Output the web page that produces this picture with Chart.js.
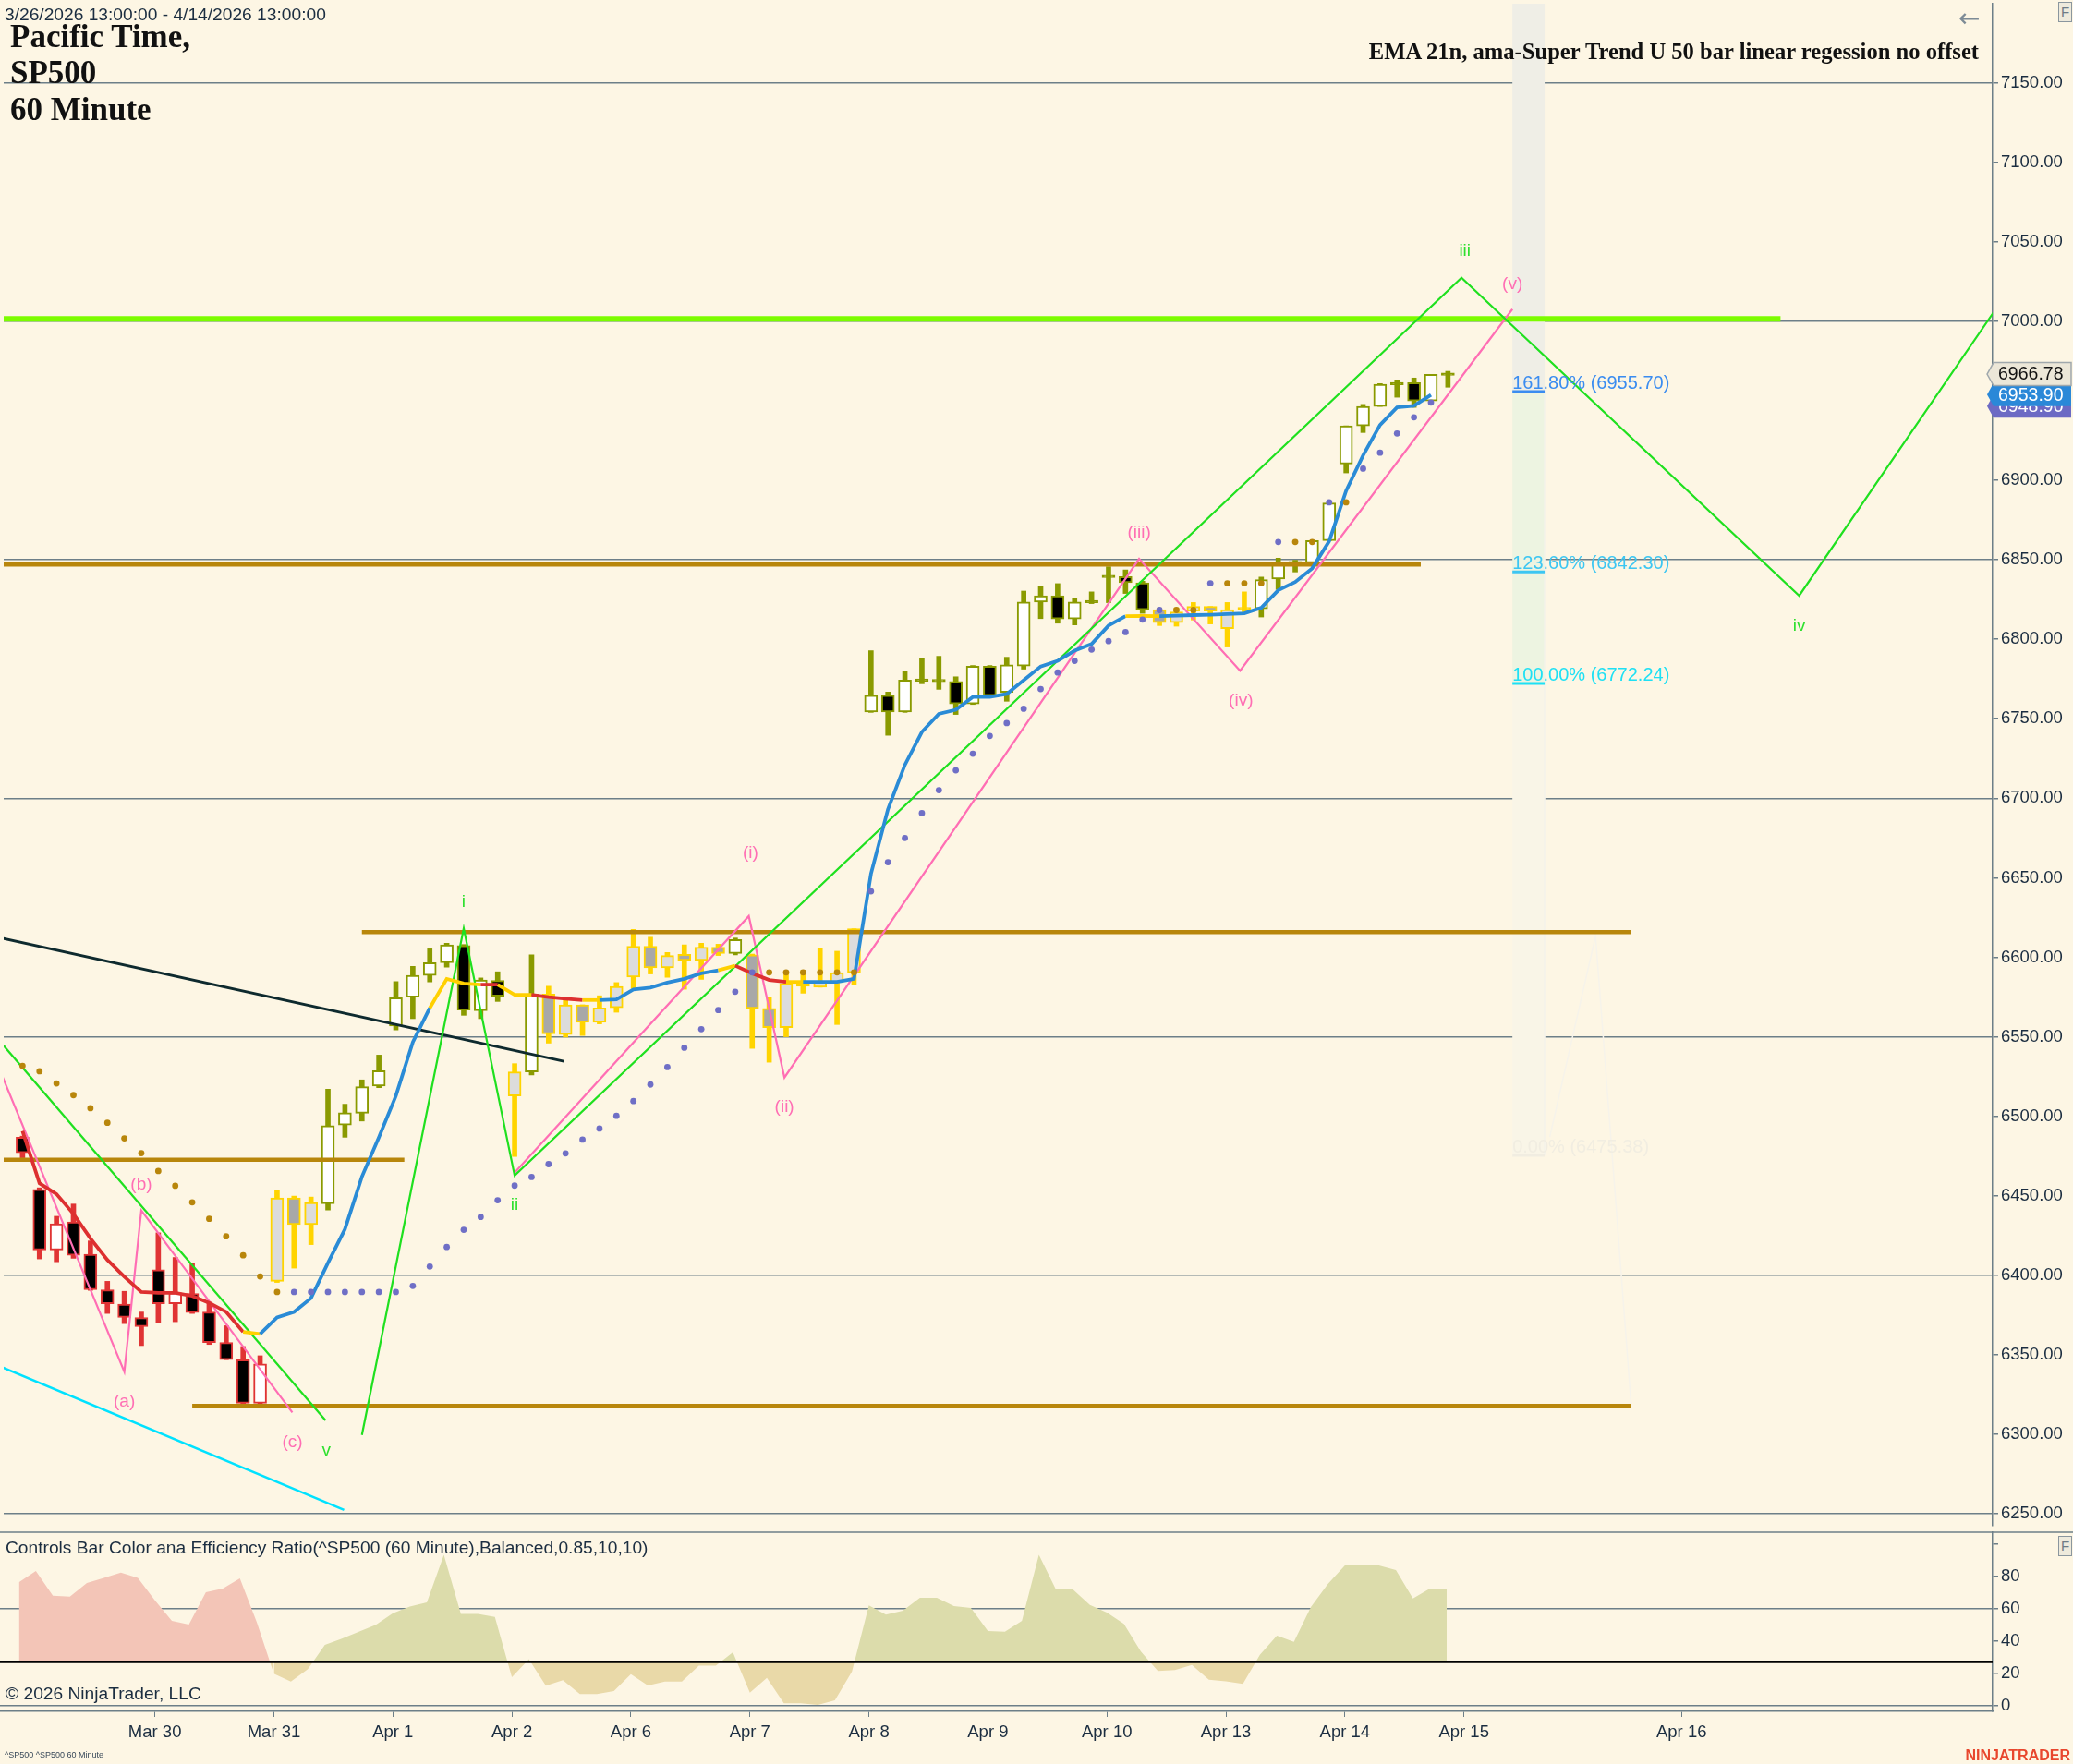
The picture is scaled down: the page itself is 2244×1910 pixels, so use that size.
<!DOCTYPE html>
<html><head><meta charset="utf-8">
<script src="https://cdn.jsdelivr.net/npm/chart.js@4.4.1/dist/chart.umd.min.js"></script>
<style>
html,body{margin:0;padding:0;background:#fdf6e4;}
#wrap{position:relative;width:2244px;height:1910px;overflow:hidden;background:#fdf6e4;}
canvas{position:absolute;left:0;}
.t{position:absolute;white-space:nowrap;}
.n{font-family:'Liberation Sans',Arial,sans-serif;color:#1b2d40;}
.s{font-family:'Liberation Serif','Times New Roman',serif;font-weight:bold;color:#111;}
</style></head><body>
<div id="wrap">
<canvas id="main" width="2244" height="1656" style="top:0;width:2244px;height:1656px"></canvas>
<canvas id="ind" width="2244" height="254" style="top:1656px;width:2244px;height:254px"></canvas>
<div class="t n" style="left:5px;top:5px;font-size:19.2px;line-height:22px;">3/26/2026 13:00:00 - 4/14/2026 13:00:00</div>
<div class="t s" style="left:11px;top:20px;font-size:35px;line-height:40px;">Pacific Time,</div>
<div class="t s" style="left:11px;top:59px;font-size:35px;line-height:40px;">SP500</div>
<div class="t s" style="left:11px;top:99px;font-size:35px;line-height:40px;">60 Minute</div>
<div class="t s" style="right:102px;top:41px;font-size:24.6px;line-height:30px;">EMA 21n, ama-Super Trend U 50 bar linear regession no offset</div>
<div class="t" style="left:2120px;top:4px;font-size:28px;line-height:32px;color:#7d8b96;font-family:'DejaVu Sans',sans-serif;">&#8592;</div>
<div class="t n" style="left:2228px;top:2px;width:13px;height:20px;border:1px solid #8a969e;background:#eeeadc;font-size:15px;line-height:20px;text-align:center;color:#6d7b86;">F</div>
<div class="t n" style="left:2228px;top:1663px;width:13px;height:20px;border:1px solid #8a969e;background:#eeeadc;font-size:15px;line-height:20px;text-align:center;color:#6d7b86;">F</div>
<div class="t n" style="left:6px;top:1665px;font-size:19.2px;line-height:22px;">Controls Bar Color ana Efficiency Ratio(^SP500 (60 Minute),Balanced,0.85,10,10)</div>
<div class="t n" style="left:6px;top:1823px;font-size:19.2px;line-height:22px;">&copy; 2026 NinjaTrader, LLC</div>
<div class="t n" style="left:5px;top:1894px;font-size:9px;line-height:12px;color:#3a4a5a;">^SP500 ^SP500 60 Minute</div>
<div class="t n" style="right:3px;top:1891px;font-size:16px;line-height:20px;font-weight:bold;color:#e8472e;">NINJATRADER</div>
</div>
<script>
// ---------------- data ----------------
const OPEN = [6486.8,6454.0,6415.9,6433.6,6413.2,6390.8,6381.8,6373.5,6403.5,6382.1,
6388.5,6376.9,6357.7,6346.9,6319.5,6396.2,6448.6,6431.9,6445.0,6494.5,
6501.9,6519.0,6556.8,6574.9,6588.6,6596.6,6607.4,6566.4,6585.5,6512.8,
6527.9,6576.8,6551.4,6570.1,6559.1,6568.3,6587.6,6606.9,6593.4,6601.9,
6598.0,6606.3,6602.4,6601.5,6567.8,6555.8,6583.5,6581.2,6584.1,6590.3,
6754.2,6764.8,6754.2,6774.5,6774.2,6773.5,6759.4,6783.1,6766.6,6783.1,
6823.4,6827.3,6812.8,6823.8,6839.6,6839.4,6835.5,6818.6,6810.5,6817.7,
6820.6,6806.7,6819.4,6819.2,6837.9,6848.3,6848.1,6862.0,6910.2,6934.2,
6946.4,6960.6,6961.4,6949.9,6966.5];
const HIGH = [6487.5,6455.0,6437.1,6444.8,6421.6,6396.2,6389.9,6376.9,6426.7,6411.2,
6407.8,6383.1,6368.3,6355.2,6349.4,6453.4,6449.8,6449.2,6517.0,6507.6,
6522.9,6538.5,6584.7,6594.3,6605.3,6608.8,6608.0,6587.0,6590.9,6533.1,
6601.5,6581.8,6573.0,6570.1,6575.8,6584.1,6617.5,6612.6,6603.0,6607.8,
6608.8,6608.2,6612.1,6602.0,6574.9,6590.5,6591.8,6605.9,6603.8,6617.9,
6792.8,6766.8,6780.0,6787.8,6789.3,6776.4,6783.5,6783.5,6788.7,6830.3,
6833.2,6835.0,6825.5,6829.8,6845.6,6843.6,6836.5,6819.7,6819.7,6823.1,
6820.6,6823.1,6829.8,6839.1,6851.0,6849.7,6862.0,6885.7,6934.2,6947.7,
6960.8,6963.1,6964.3,6966.6,6968.5];
const LOW = [6473.9,6410.3,6408.5,6410.7,6390.5,6376.0,6369.6,6355.8,6370.2,6370.8,
6376.0,6356.5,6346.9,6319.1,6319.1,6395.5,6404.5,6419.3,6441.1,6486.8,
6497.0,6518.0,6554.3,6561.4,6584.5,6593.8,6563.5,6561.4,6572.2,6474.7,
6526.0,6546.0,6549.8,6550.8,6558.1,6565.4,6580.3,6589.5,6587.4,6579.9,
6586.1,6601.1,6601.5,6542.7,6534.0,6550.0,6577.4,6581.2,6557.7,6582.8,
6754.0,6739.6,6754.0,6772.0,6768.5,6752.7,6759.0,6764.6,6761.0,6781.2,
6813.0,6810.1,6809.0,6822.4,6823.0,6828.8,6816.3,6808.6,6808.2,6812.1,
6809.6,6795.1,6816.3,6814.0,6831.3,6842.3,6848.0,6862.0,6904.6,6930.0,
6946.4,6952.2,6945.8,6949.9,6958.5];
const CLOSE = [6477.1,6415.9,6432.4,6412.6,6391.0,6382.1,6373.5,6367.7,6382.1,6388.9,
6376.6,6357.7,6346.9,6319.5,6344.2,6448.6,6431.9,6445.7,6494.1,6502.2,
6518.6,6528.6,6574.5,6588.6,6596.6,6607.8,6566.8,6585.7,6575.5,6527.9,
6576.8,6551.8,6570.1,6559.1,6568.1,6581.6,6606.9,6593.4,6601.1,6598.0,
6606.3,6602.4,6611.1,6567.8,6555.8,6583.5,6581.8,6584.7,6590.3,6617.9,
6764.8,6754.2,6774.3,6774.0,6773.9,6759.4,6783.1,6764.6,6783.9,6823.4,
6827.3,6812.8,6823.4,6823.6,6839.4,6835.5,6818.6,6810.5,6817.2,6820.6,
6817.7,6818.6,6819.2,6837.5,6848.5,6848.1,6862.0,6885.7,6934.2,6946.4,
6960.4,6960.8,6949.9,6966.6,6966.8];
// bar colour phase runs: r = down (red), y = neutral (gold), o = up (olive)
const PHASE_RUNS = [['r',15],['y',3],['o',11],['y',1],['o',1],['y',11],['o',1],['y',7],['o',17],['y',6],['o',12]];
const EMA = [6490.7,6457.9,6451.1,6438.6,6423.2,6409.7,6399.1,6389.5,6388.9,6388.9,
6387.0,6382.7,6377.0,6364.4,6363.1,6373.5,6377.0,6385.6,6407.8,6429.0,
6462.0,6486.8,6512.8,6546.6,6568.1,6586.4,6583.5,6582.8,6582.8,6576.4,
6576.4,6574.9,6573.9,6573.1,6573.1,6573.5,6579.7,6580.9,6584.1,6586.4,
6589.9,6591.8,6594.7,6589.9,6585.7,6584.5,6584.5,6584.5,6584.5,6586.4,
6652.5,6693.0,6721.0,6741.7,6753.1,6755.6,6763.7,6763.7,6765.6,6774.3,
6782.9,6786.4,6792.8,6797.0,6808.6,6814.5,6814.7,6814.5,6814.8,6815.2,
6815.4,6815.8,6816.3,6819.8,6830.8,6836.0,6844.6,6861.6,6893.4,6915.6,
6934.8,6945.8,6946.8,6953.7,null];
const EMA_TREND_RUNS = [['r',14],['y',1],['b',10],['y',3],['r',1],['y',2],['r',3],['y',1],['b',7],['y',1],['r',3],['y',1],['b',19],['y',2],['b',17]];
const STOP = [6531.7,6528.3,6520.7,6513.3,6505.1,6495.9,6486.1,6476.8,6465.6,6456.3,
6445.9,6435.5,6424.5,6412.6,6399.3,6389.5,6389.5,6389.5,6389.5,6389.5,
6389.5,6389.5,6389.5,6393.3,6405.5,6417.8,6428.6,6436.7,6447.2,6456.4,
6461.8,6469.9,6476.7,6485.3,6492.3,6500.3,6509.6,6520.0,6530.9,6543.1,
6554.8,6566.8,6578.3,6590.5,6590.5,6590.5,6590.5,6590.5,6590.5,6590.5,
6641.5,6659.8,6675.0,6690.6,6705.1,6717.6,6728.0,6739.2,6747.3,6756.3,
6768.7,6779.1,6786.4,6793.5,6798.8,6804.5,6812.4,6818.4,6818.4,6818.4,
6835.2,6835.2,6835.2,6835.2,6861.2,6861.2,6861.2,6886.1,6886.1,6907.3,
6917.3,6929.4,6939.6,6948.9,null];
const STOP_TREND_RUNS = [['d',16],['u',28],['d',6],['u',18],['d',2],['u',1],['d',3],['u',1],['d',2],['u',1],['d',1],['u',6]];
const EFF_RATIO = [76.4,83.4,68.2,67.6,76.0,79.2,82.5,79.2,65.3,52.6,
50.3,70.3,72.6,78.8,51.6,19.8,15.0,22.7,37.7,41.5,
45.9,50.1,57.3,61.5,64.0,93.5,56.9,56.9,55.0,17.7,
28.8,12.4,15.8,7.3,7.3,9.1,19.6,12.6,15.0,15.0,
24.9,24.9,33.1,8.2,17.3,1.5,1.5,0.6,3.4,21.1,
62.1,56.4,58.9,66.9,66.9,61.7,60.6,46.3,45.9,52.6,
93.5,72.0,72.0,62.5,57.7,50.7,33.5,21.5,22.1,25.3,
16.2,15.2,13.5,31.6,43.4,39.6,61.1,75.4,86.9,87.4,
86.9,84.0,66.5,72.6,72.0];
const EFF_THRESHOLD = 27;
const EFF_DOWN_LAST = 15;      // efficiency area coloured as down-trend through this bar

const DAY_LABELS = ['Mar 30','Mar 31','Apr 1','Apr 2','Apr 6','Apr 7','Apr 8','Apr 9','Apr 10','Apr 13','Apr 14','Apr 15','Apr 16'];
const DAY_POS = [8,15,22,29,36,43,50,57,64,71,78,85,97.8];
const PRICE_TICKS = [6250,6300,6350,6400,6450,6500,6550,6600,6650,6700,6750,6800,6850,6900,6950,7000,7050,7100,7150];
const PRICE_GRID = [6250,6400,6550,6700,6850,7000,7150];
const ER_TICKS = [0,20,40,60,80,100];
const ER_GRID = [0,60];

// horizontal levels (price) and their bar spans
const GOLD_LEVELS = [6847.0, 6615.8, 6472.7, 6317.9];
const GOLD_SPANS = [[-1.2,82.4],[20,94.8],[-1.2,22.5],[10,94.8]];
const TARGET_LEVEL = 7001.5;
const TARGET_SPAN = [-1.2,103.6];
// trend lines [bar, price]
const BLACK_LINE = [[-1.2,6612.0],[31.9,6534.6]];
const CYAN_LINE = [[-1.2,6342.2],[18.95,6252.5]];
// wave zigzags [bar, price]
const GREEN_WAVE_A = [[-1.2,6545.5],[17.86,6308.7]];
const GREEN_WAVE_B = [[20,6299.6],[26,6618.2],[29,6462.7],[84.8,7027.3],[104.7,6827.4],[116.5,7011]];
const PINK_WAVE_A = [[-1.2,6525.4],[6,6339.3],[7,6440.8],[15.9,6313.7]];
const PINK_WAVE_B = [[29,6464.5],[42.8,6625.9],[44.9,6524.4],[65.8,6850.6],[71.75,6780.2],[87.8,7007.6]];
const GREEN_LABELS = ['i','ii','iii','iv','v'];
const GREEN_LABEL_POS = [[26,6634.7],[29,6444.4],[85,7044.1],[104.7,6808.4],[17.9,6289.7]];
const PINK_LABELS = ['(a)','(b)','(c)','(i)','(ii)','(iii)','(iv)','(v)'];
const PINK_LABEL_POS = [[6,6320.3],[7,6456.8],[15.9,6294.7],[42.9,6665.3],[44.9,6505.6],[65.8,6867.1],[71.8,6761.2],[87.8,7023.4]];
// fibonacci projection
const FIB_TEXT = ['161.80% (6955.70)','123.60% (6842.30)','100.00% (6772.24)','0.00% (6475.38)'];
const FIB_LEVELS = [6955.70,6842.30,6772.24,6475.38];
const FIB_BAND = [87.8,89.7];
const FAINT_LINE = [[90.0,6487.0],[92.7,6613.3],[94.8,6318.2]];
// axis price markers
const LAST_PRICE = 6966.78;
const EMA_LAST = 6953.90;
const STOP_LAST = 6948.90;

// ---------------- styles ----------------
const SANS = "'Liberation Sans',Arial,sans-serif";
const GRID = '#6d7f88';
const AXIS_TXT = '#1b2d40';
const X_MIN = -1.11, X_MAX = 116.1;
const PHASE_COL = {
  r:{wick:'#e03434', up:'#ffffff', dn:'#000000', border:'#e03434'},
  o:{wick:'#8a9a00', up:'#ffffff', dn:'#000000', border:'#8a9a00'},
  y:{wick:'#ffd400', up:'#dcdcdc', dn:'#a8a8a8', border:'#ffd400'}
};
const EMA_COL = {r:'#dd3030', y:'#ffd000', b:'#2a8bd6'};
const STOP_COL = {d:'#b8860b', u:'#6f6fc6'};
const GOLD = '#b8860b', LIME = '#7cfc00', WAVE_GREEN = '#1fe01f', WAVE_PINK = '#ff6eb4';
const FIB_COL = ['#3a8cf0','#3cc6f2','#1ee0f4','#f1ede1'];

const expand = runs => runs.flatMap(([c,n]) => Array(n).fill(c));
const PHASE = expand(PHASE_RUNS);
const EMA_TREND = expand(EMA_TREND_RUNS);
const STOP_TREND = expand(STOP_TREND_RUNS);
const IDX = OPEN.map((_, i) => i);
const pts = arr => arr.map(([x,y]) => ({x, y}));

// ---------------- main chart ----------------
const wickData = IDX.map(i => ({x:i, y:[LOW[i], HIGH[i]]}));
const bodyData = IDX.map(i => {
  const lo = Math.min(OPEN[i], CLOSE[i]), hi = Math.max(OPEN[i], CLOSE[i]);
  if (hi - lo < 1) { const m = (hi + lo) / 2; return {x:i, y:[m - 0.75, m + 0.75]}; }
  return {x:i, y:[lo, hi]};
});
const isDoji = i => Math.abs(OPEN[i] - CLOSE[i]) < 1;
const bodyFill = IDX.map(i => isDoji(i) ? PHASE_COL[PHASE[i]].wick : (CLOSE[i] >= OPEN[i] ? PHASE_COL[PHASE[i]].up : PHASE_COL[PHASE[i]].dn));

const lineDs = (data, color, width, order, extra) => Object.assign({
  type:'line', data, borderColor:color, borderWidth:width, pointRadius:0, fill:false, tension:0, order
}, extra || {});

const mainDatasets = [
  {type:'bar', data:wickData, backgroundColor:IDX.map(i => PHASE_COL[PHASE[i]].wick), barThickness:5, grouped:false, order:40, borderWidth:0},
  {type:'bar', data:bodyData, backgroundColor:bodyFill, borderColor:IDX.map(i => PHASE_COL[PHASE[i]].border),
   borderWidth:2, borderSkipped:false, barThickness:14, grouped:false, order:39},
  lineDs(pts(FAINT_LINE), '#f6f3ea', 1.5, 35),
  lineDs([{x:TARGET_SPAN[0], y:TARGET_LEVEL},{x:TARGET_SPAN[1], y:TARGET_LEVEL}], LIME, 6, 30),
  ...GOLD_LEVELS.map((p, k) => lineDs([{x:GOLD_SPANS[k][0], y:p},{x:GOLD_SPANS[k][1], y:p}], GOLD, 4.5, 30)),
  lineDs(pts(BLACK_LINE), '#0e2a2e', 3, 25),
  lineDs(pts(CYAN_LINE), '#00e2ff', 2.5, 25),
  lineDs(pts(GREEN_WAVE_A), WAVE_GREEN, 2.2, 20),
  lineDs(pts(GREEN_WAVE_B), WAVE_GREEN, 2.2, 20),
  lineDs(pts(PINK_WAVE_A), WAVE_PINK, 2.2, 20),
  lineDs(pts(PINK_WAVE_B), WAVE_PINK, 2.2, 20),
  lineDs(IDX.map(i => ({x:i, y:EMA[i]})), EMA_COL.b, 3.8, 10,
    {segment:{borderColor: c => EMA_COL[EMA_TREND[c.p1DataIndex]]}, spanGaps:false}),
  {type:'line', data:IDX.map(i => ({x:i, y:STOP[i]})), showLine:false, pointRadius:3.4, pointBorderWidth:0,
   pointBackgroundColor:IDX.map(i => STOP_COL[STOP_TREND[i]]), order:5}
];

function marker(ctx, yPix, text, fill, stroke, color) {
  const x0 = 2151, x1 = 2242, h = 25;
  ctx.beginPath();
  ctx.moveTo(x0, yPix); ctx.lineTo(x0 + 7, yPix - h/2); ctx.lineTo(x1, yPix - h/2);
  ctx.lineTo(x1, yPix + h/2); ctx.lineTo(x0 + 7, yPix + h/2); ctx.closePath();
  ctx.fillStyle = fill; ctx.fill();
  if (stroke) { ctx.strokeStyle = stroke; ctx.lineWidth = 1.5; ctx.stroke(); }
  ctx.fillStyle = color; ctx.font = `19.5px ${SANS}`; ctx.textAlign = 'left'; ctx.textBaseline = 'middle';
  ctx.fillText(text, x0 + 12, yPix + 1);
}

const mainPlugin = {
  id:'mainOverlay',
  beforeDatasetsDraw(chart) {
    const {ctx, chartArea:a, scales:{x, y}} = chart;
    const xl = x.getPixelForValue(FIB_BAND[0]), xr = x.getPixelForValue(FIB_BAND[1]);
    const y0 = y.getPixelForValue(FIB_LEVELS[0]), y2 = y.getPixelForValue(FIB_LEVELS[2]), y3 = y.getPixelForValue(FIB_LEVELS[3]);
    ctx.save();
    ctx.fillStyle = '#efeee6'; ctx.fillRect(xl, a.top, xr - xl, y0 - a.top);
    ctx.fillStyle = '#edf4e1'; ctx.fillRect(xl, y0, xr - xl, y2 - y0);
    ctx.fillStyle = '#f9f5e7'; ctx.fillRect(xl, y2, xr - xl, y3 - y2);
    ctx.strokeStyle = '#f4f2ea'; ctx.lineWidth = 1.5;
    ctx.beginPath(); ctx.moveTo(xr, y0); ctx.lineTo(xr, y3); ctx.stroke();
    ctx.restore();
  },
  afterDatasetsDraw(chart) {
    const {ctx, scales:{x, y}} = chart;
    ctx.save();
    ctx.font = `19px ${SANS}`; ctx.textAlign = 'center'; ctx.textBaseline = 'middle';
    ctx.fillStyle = '#2ee02e';
    GREEN_LABELS.forEach((t, k) => ctx.fillText(t, x.getPixelForValue(GREEN_LABEL_POS[k][0]), y.getPixelForValue(GREEN_LABEL_POS[k][1])));
    ctx.fillStyle = WAVE_PINK;
    PINK_LABELS.forEach((t, k) => ctx.fillText(t, x.getPixelForValue(PINK_LABEL_POS[k][0]), y.getPixelForValue(PINK_LABEL_POS[k][1])));
    // fib levels
    const xl = x.getPixelForValue(FIB_BAND[0]), xr = x.getPixelForValue(FIB_BAND[1]);
    ctx.textAlign = 'left'; ctx.textBaseline = 'alphabetic'; ctx.font = `20px ${SANS}`;
    FIB_LEVELS.forEach((p, k) => {
      const yp = y.getPixelForValue(p);
      ctx.strokeStyle = FIB_COL[k]; ctx.lineWidth = 3;
      ctx.beginPath(); ctx.moveTo(xl, yp); ctx.lineTo(xr, yp); ctx.stroke();
      ctx.fillStyle = FIB_COL[k]; ctx.fillText(FIB_TEXT[k], xl, yp - 3);
    });
    ctx.restore();
  },
  afterDraw(chart) {
    const {ctx, scales:{y}} = chart;
    ctx.save();
    marker(ctx, y.getPixelForValue(STOP_LAST) + 4, STOP_LAST.toFixed(2), '#6c6ac4', null, '#ffffff');
    marker(ctx, y.getPixelForValue(EMA_LAST), EMA_LAST.toFixed(2), '#2a88d8', null, '#ffffff');
    marker(ctx, y.getPixelForValue(LAST_PRICE), LAST_PRICE.toFixed(2), '#ece7d8', '#a0a8ac', '#111111');
    ctx.restore();
  }
};

Chart.defaults.animation = false;
new Chart(document.getElementById('main'), {
  type:'bar',
  data:{datasets:mainDatasets},
  plugins:[mainPlugin],
  options:{
    responsive:false, devicePixelRatio:1, events:[],
    layout:{padding:0},
    plugins:{legend:{display:false}, tooltip:{enabled:false}},
    scales:{
      x:{type:'linear', min:X_MIN, max:X_MAX, offset:false, display:false},
      y:{position:'right', min:6242.5, max:7199.7,
         afterBuildTicks: s => { s.ticks = PRICE_TICKS.map(v => ({value:v})); },
         ticks:{callback: v => Number(v).toFixed(2), color:AXIS_TXT, font:{family:SANS, size:18.5}, padding:3},
         grid:{color: c => (c.tick && PRICE_GRID.includes(c.tick.value)) ? GRID : 'rgba(0,0,0,0)', lineWidth:1.5,
               tickColor:GRID, tickLength:6, drawTicks:true},
         border:{display:true, color:GRID, width:1.5},
         afterFit: s => { s.width = 87; s.paddingTop = 0; s.paddingBottom = 0; }
      }
    }
  }
});

// ---------------- indicator chart ----------------
const indPlugin = {
  id:'indOverlay',
  afterDraw(chart) {
    const {ctx, chartArea:a} = chart;
    ctx.save(); ctx.strokeStyle = GRID; ctx.lineWidth = 1.5;
    ctx.beginPath(); ctx.moveTo(0, a.top); ctx.lineTo(2244, a.top); ctx.stroke();
    ctx.restore();
  }
};
new Chart(document.getElementById('ind'), {
  type:'line',
  data:{datasets:[
    {data:IDX.filter(i => i <= EFF_DOWN_LAST).map(i => ({x:i, y:EFF_RATIO[i]})), borderWidth:0, borderColor:'rgba(0,0,0,0)',
     pointRadius:0, tension:0, backgroundColor:'#f3c5b7',
     fill:{target:{value:EFF_THRESHOLD}, above:'#f3c5b7', below:'#e9d9a8'}, order:3},
    {data:IDX.filter(i => i >= EFF_DOWN_LAST).map(i => ({x:i, y:EFF_RATIO[i]})), borderWidth:0, borderColor:'rgba(0,0,0,0)',
     pointRadius:0, tension:0, backgroundColor:'#dcdcab',
     fill:{target:{value:EFF_THRESHOLD}, above:'#dcdcab', below:'#e9d9a8'}, order:3},
    {data:[{x:X_MIN, y:EFF_THRESHOLD},{x:X_MAX, y:EFF_THRESHOLD}], borderColor:'#000000', borderWidth:2, pointRadius:0, fill:false, order:1}
  ]},
  plugins:[indPlugin],
  options:{
    responsive:false, devicePixelRatio:1, events:[],
    layout:{padding:{top:3, left:0, right:0, bottom:0}},
    plugins:{legend:{display:false}, tooltip:{enabled:false}},
    scales:{
      x:{type:'linear', min:X_MIN, max:X_MAX, offset:false,
         afterBuildTicks: s => { s.ticks = DAY_POS.map(v => ({value:v})); },
         ticks:{autoSkip:false, maxRotation:0, minRotation:0, callback:(v, i) => DAY_LABELS[i], color:AXIS_TXT,
                font:{family:SANS, size:18.5}, padding:6},
         grid:{drawOnChartArea:false, drawTicks:true, tickLength:6, tickColor:GRID},
         border:{display:true, color:GRID, width:1.5},
         afterFit: s => { s.height = 57; s.paddingLeft = 0; s.paddingRight = 0; }
      },
      y:{position:'right', min:-3.43, max:107.43,
         afterBuildTicks: s => { s.ticks = ER_TICKS.map(v => ({value:v})); },
         ticks:{callback: v => v === 100 ? '' : String(v), color:AXIS_TXT, font:{family:SANS, size:18.5}, padding:3},
         grid:{color: c => (c.tick && ER_GRID.includes(c.tick.value)) ? GRID : 'rgba(0,0,0,0)', lineWidth:1.5,
               tickColor:GRID, tickLength:6},
         border:{display:true, color:GRID, width:1.5},
         afterFit: s => { s.width = 87; s.paddingTop = 0; s.paddingBottom = 0; }
      }
    }
  }
});
</script>
</body></html>
